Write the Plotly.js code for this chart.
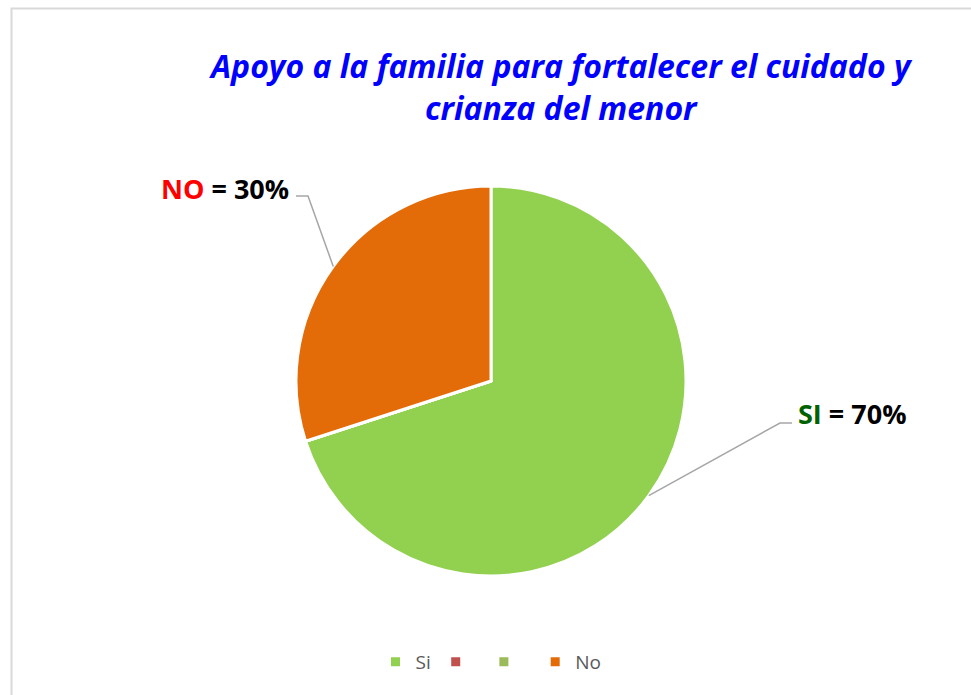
<!DOCTYPE html>
<html>
<head>
<meta charset="utf-8">
<script src="https://cdn.plot.ly/plotly-3.0.1.min.js"></script>
<style>html,body{margin:0;padding:0;background:#fff;}</style>
</head>
<body>
<div id="chart" style="width:971px;height:695px;"></div>
<script>
// Data
const categories = ["Si", "\u2009", "\u2009\u2009", "No"];
const values = [70, 0, 0, 30];
const colors = ["#92D050", "#C0504D", "#9BBB59", "#E36C09"];
const labelPrefix = ["SI", "", "", "NO"];
const labelPrefixColor = ["#006100", "", "", "#FF0000"];
const titleText = "Apoyo a la familia para fortalecer el cuidado y<br>crianza del menor";

const W = 971, H = 695;
const cx = 491, cy = 381, R = 195;
const dom = {x: [(cx - R) / W, (cx + R) / W], y: [(H - cy - R) / H, (H - cy + R) / H]};

const total = values.reduce((a, b) => a + b, 0);
// label anchor positions (pixel) for the nonzero slices
const labelPos = {0: {x: 796, y: 413, anchor: "left", elbow: [780, 423], stubEnd: 792},
                  3: {x: 291, y: 188, anchor: "right", elbow: [308, 196], stubEnd: 296}};

const annotations = [];
const shapes = [];
let cum = 0;
values.forEach((v, i) => {
  const mid = (cum + v / 2) / total * 2 * Math.PI;
  cum += v;
  if (!labelPos[i]) return;
  const px = cx + R * Math.sin(mid);
  const py = cy - R * Math.cos(mid);
  const lp = labelPos[i];
  const pct = Math.round(v / total * 100);
  annotations.push({
    xref: "paper", yref: "paper",
    x: lp.x / W, y: 1 - lp.y / H,
    xanchor: lp.anchor, yanchor: "middle",
    showarrow: false,
    text: '<span style="color:' + labelPrefixColor[i] + '">' + labelPrefix[i] + '</span> = ' + pct + '%',
    font: {family: "'Open Sans', sans-serif", size: 27, color: "#000000", weight: "bold"}
  });
  const toP = (x, y) => (x / W) + "," + (1 - y / H);
  shapes.push({
    type: "path", xref: "paper", yref: "paper",
    path: "M" + toP(px, py) + " L" + toP(lp.elbow[0], lp.elbow[1]) + " L" + toP(lp.stubEnd, lp.elbow[1]),
    line: {color: "#A6A6A6", width: 1.5}
  });
});

// chart border
shapes.push({
  type: "rect", xref: "paper", yref: "paper",
  x0: 11.5 / W, x1: 1.05, y0: -0.05, y1: 1 - 8.5 / H,
  line: {color: "#D9D9D9", width: 2}, layer: "below"
});

annotations.push({
  xref: "paper", yref: "paper", x: 561 / W, y: 1 - 86 / H,
  xanchor: "center", yanchor: "middle", showarrow: false,
  text: "<i><b>" + titleText + "</b></i>",
  font: {family: "'Open Sans', sans-serif", size: 32, color: "#0000FF"},
  align: "center"
});

const data = [{
  type: "pie",
  labels: categories,
  values: values,
  sort: false,
  direction: "clockwise",
  rotation: 0,
  textinfo: "none",
  hoverinfo: "label+percent",
  marker: {colors: colors, line: {color: "#FFFFFF", width: 3}},
  domain: dom,
  showlegend: true
}];

const layout = {
  width: W, height: H,
  margin: {l: 0, r: 0, t: 0, b: 0},
  paper_bgcolor: "#FFFFFF",
  showlegend: true,
  legend: {
    orientation: "h", x: 491 / W, xanchor: "center", y: 1 - 662 / H, yanchor: "middle",
    font: {family: "'Open Sans', sans-serif", size: 19, color: "#595959"},
    itemwidth: 30, traceorder: "normal"
  },
  annotations: annotations,
  shapes: shapes
};

Plotly.newPlot("chart", data, layout, {displayModeBar: false, staticPlot: true});
</script>
</body>
</html>
